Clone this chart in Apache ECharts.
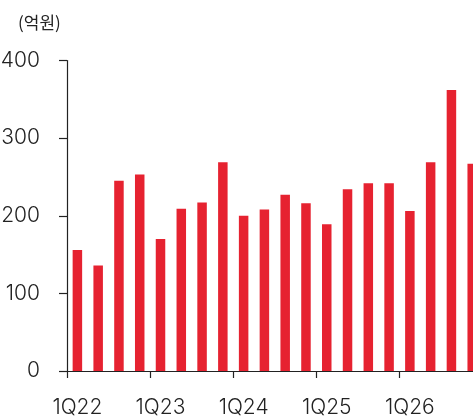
<!DOCTYPE html>
<html>
<head>
<meta charset="utf-8">
<script src="https://cdn.jsdelivr.net/npm/echarts@6/dist/echarts.min.js"></script>
<style>
html,body{margin:0;padding:0;background:#fff;}
#c{width:473px;height:416px;}
</style>
</head>
<body>
<div id="c"></div>
<script>
var categories = ['1Q22','2Q22','3Q22','4Q22','1Q23','2Q23','3Q23','4Q23','1Q24','2Q24','3Q24','4Q24','1Q25','2Q25','3Q25','4Q25','1Q26','2Q26','3Q26','4Q26'];
var values = [156,136,245,253,170,209,217,269,200,208,227,216,189,234,242,242,206,269,362,267];
var unitLabel = '(억원)';

var chart = echarts.init(document.getElementById('c'), null, {renderer:'canvas'});
var txt = '#222222';
chart.setOption({
  animation:false,
  title:{text:unitLabel,left:13,top:9,textStyle:{fontFamily:'Noto Sans CJK KR',fontSize:17,fontWeight:'normal',color:txt}},
  grid:{left:67,top:60.5,bottom:45,width:415.6,containLabel:false,outerBoundsMode:'none'},
  xAxis:{
    type:'category',data:categories,boundaryGap:true,
    axisLine:{lineStyle:{color:'#222',width:1.2}},
    axisTick:{show:true,interval:3,length:7,lineStyle:{color:'#222',width:1.2}},
    axisLabel:{interval:3,margin:26,fontFamily:'Inter',fontWeight:300,fontSize:21,color:txt}
  },
  yAxis:{
    type:'value',min:0,max:400,interval:100,
    splitLine:{show:false},
    axisLine:{show:true,lineStyle:{color:'#222',width:1.2}},
    axisTick:{show:true,length:8,lineStyle:{color:'#222',width:1.2}},
    axisLabel:{margin:27,fontFamily:'Inter',fontWeight:300,fontSize:21,color:txt}
  },
  series:[{type:'bar',data:values,barWidth:9.5,itemStyle:{color:'#E62230'}}]
});
</script>
</body>
</html>
